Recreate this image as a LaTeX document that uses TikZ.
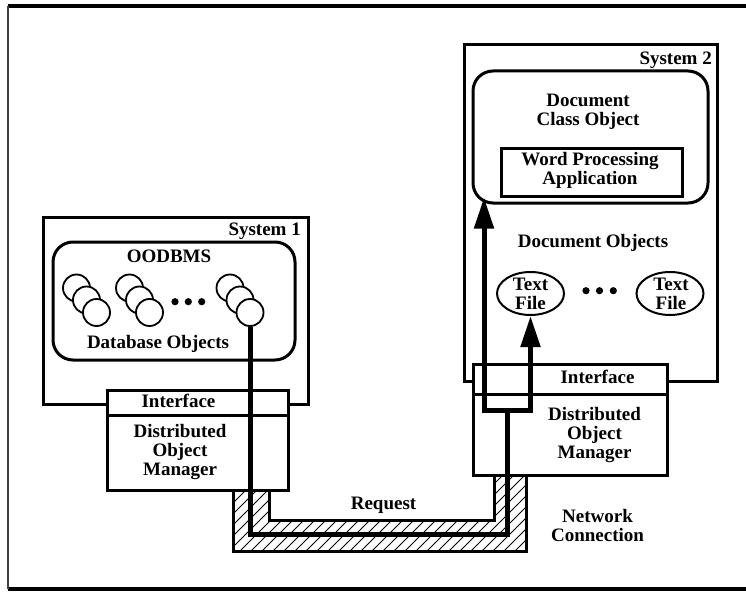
\documentclass[tikz,border=0pt]{standalone}
\usepackage{fontspec}
\setmainfont{Liberation Serif}
\usetikzlibrary{arrows.meta,shapes.geometric}

% labels are placed by the baseline of their last line
\tikzset{
  lbl/.style={font=\fontsize{19}{18.7}\selectfont\bfseries, inner sep=0pt, align=center, anchor=base},
  frame/.style={draw, line width=3pt, rectangle, fill=white, inner sep=0pt},
  rbox/.style={draw, line width=3pt, rectangle, rounded corners=20pt, inner sep=0pt},
  dbobj/.style={draw, line width=1.8pt, circle, fill=white, minimum size=27pt, inner sep=0pt},
  docobj/.style={draw, line width=2pt, ellipse, minimum width=67pt, minimum height=43pt, inner sep=0pt},
  req/.style={line width=5pt, line join=miter},
  reqtip/.style={-{Triangle[length=31pt, width=19pt]}},
  pipe/.style={line width=3pt, line join=miter},
  dot/.style={fill=black},
}

\begin{document}
\begin{tikzpicture}[x=1pt, y=-1pt]
\useasboundingbox (0,0) rectangle (746,591);

% outer frame (open on the right)
\draw[line width=4pt] (746,6) -- (8,6);
\draw[line width=4pt] (8,589) -- (746,589);
\draw[line width=2.5pt, black!75] (8,6) -- (8,589);

% ---------- System 1 ----------
\node[frame, minimum width=265pt, minimum height=187pt] (sys1) at (175.5,310.5) {};
\node[lbl, anchor=base east] (sys1lbl) at (301,235) {System 1};
\node[rbox, minimum width=242pt, minimum height=118pt] (oodbms) at (174,301) {};
\node[lbl] (oodbmslbl) at (169,262) {OODBMS};
\node[lbl] (dblbl) at (158,348) {Database Objects};

% database objects: three stacks of three
\node[dbobj] (c1a) at (76.5,288) {};
\node[dbobj] (c1b) at (86.5,300) {};
\node[dbobj] (c1c) at (96.5,312.5) {};
\node[dbobj] (c2a) at (129.5,288) {};
\node[dbobj] (c2b) at (139.5,300) {};
\node[dbobj] (c2c) at (149.5,312.5) {};
\node[dbobj] (c3a) at (230,288) {};
\node[dbobj] (c3b) at (240,300) {};
\node[dbobj] (c3c) at (250,312.5) {};
\fill[dot] (175,301.7) circle (3.6pt);
\fill[dot] (188.3,301.7) circle (3.6pt);
\fill[dot] (201.7,301.7) circle (3.6pt);

% distributed object manager 1
\node[frame, minimum width=181pt, minimum height=25pt] (iface1) at (197.5,402.5) {};
\node[frame, minimum width=181pt, minimum height=75pt] (dom1) at (197.5,452.5) {};
\node[lbl] (iface1lbl) at (178.5,407) {Interface};
\node[lbl] (dom1lbl) at (180,475) {Distributed\\Object\\Manager};

% ---------- System 2 ----------
\node[frame, minimum width=253pt, minimum height=336pt] (sys2) at (590.5,213) {};
\node[lbl, anchor=base east] (sys2lbl) at (712,65) {System 2};
\node[rbox, minimum width=235pt, minimum height=132pt] (docclass) at (590.5,137) {};
\node[lbl] (docclasslbl) at (588,125) {Document\\Class Object};
\node[draw, line width=3pt, rectangle, minimum width=181pt, minimum height=48pt, inner sep=0pt] (wp) at (591.5,172) {};
\node[lbl] (wplbl) at (590,184) {Word Processing\\Application};
\node[lbl] (doclbl) at (593,247) {Document Objects};

\node[docobj] (tf1) at (530.5,293.5) {};
\node[docobj] (tf2) at (670,293.5) {};
\node[lbl] (tf1lbl) at (530.5,309) {Text\\File};
\node[lbl] (tf2lbl) at (671,309) {Text\\File};
\fill[dot] (586,290.7) circle (3.6pt);
\fill[dot] (599.5,290.7) circle (3.6pt);
\fill[dot] (613.3,290.7) circle (3.6pt);

% distributed object manager 2
\node[frame, minimum width=194pt, minimum height=30pt] (iface2) at (570,379) {};
\node[frame, minimum width=194pt, minimum height=81pt] (dom2) at (570,434.5) {};
\node[lbl] (iface2lbl) at (597.5,383) {Interface};
\node[lbl] (dom2lbl) at (594.5,458) {Distributed\\Object\\Manager};

% ---------- network connection (hatched pipe) ----------
\coordinate (pol) at (233,490);
\coordinate (pil) at (269,490);
\coordinate (por) at (526,475);
\coordinate (pir) at (494,475);
\begin{scope}
  \clip (pol) -- (233,551) -- (526,551) -- (por) -- (pir) -- (494,520) -- (269,520) -- (pil) -- cycle;
  \foreach \k in {-10,...,40} {
    \draw[line width=0.9pt] (220+11*\k,560) -- (220+11*\k+100,460);
  }
\end{scope}
\draw[pipe] (pol) -- (233,551) -- (526,551) -- (por);
\draw[pipe] (pil) -- (269,520) -- (494,520) -- (pir);
\node[lbl] (reqlbl) at (383.5,509) {Request};
\node[lbl] (netlbl) at (597.5,541) {Network\\Connection};

% ---------- request path ----------
\coordinate (jb) at (507,534);
\coordinate (jn) at (507,410);
\coordinate (jl) at (484,410);
\coordinate (jr) at (530.5,410);
\draw[req] (c3c.south) |- (jb) -- (jn);
\draw[req, reqtip, shorten >=-7pt] (jn) -- (jl) -- (jl |- docclass.south);
\draw[req, reqtip] (jn) -- (jr) -- (tf1.south);
\end{tikzpicture}
\end{document}
